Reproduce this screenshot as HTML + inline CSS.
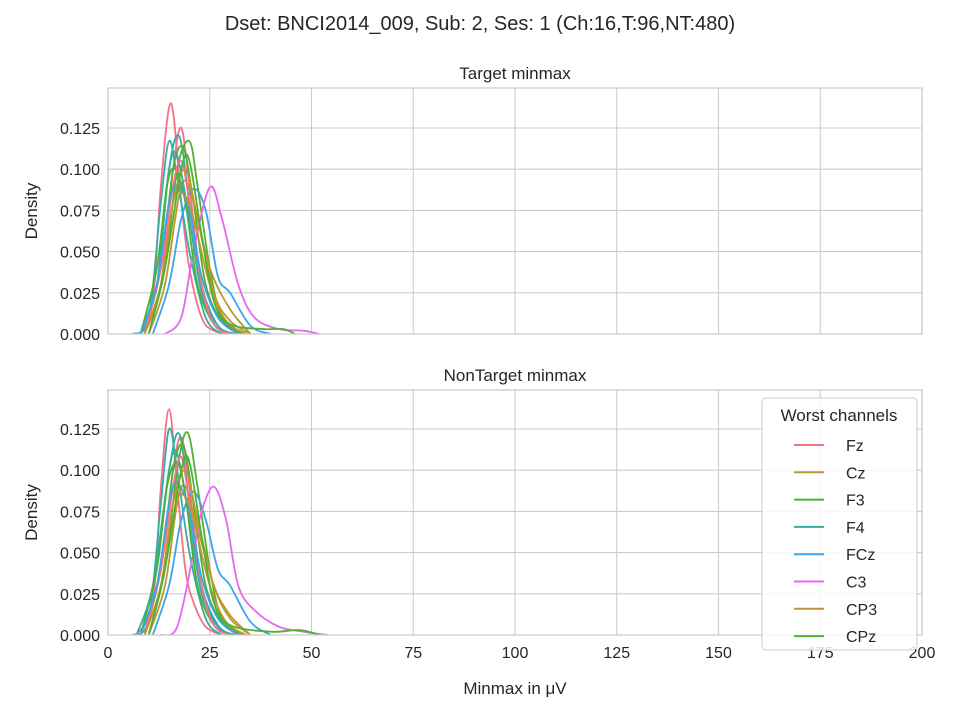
<!DOCTYPE html>
<html><head><meta charset="utf-8"><style>
body{margin:0;background:#fff;font-family:"Liberation Sans","DejaVu Sans",sans-serif;}
svg text{font-family:"Liberation Sans","DejaVu Sans",sans-serif;fill:#262626;}
</style></head><body>
<svg id="chart" width="960" height="720" viewBox="0 0 960 720"></svg>
<script>
const xTicks=[0,25,50,75,100,125,150,175,200];
const yTicks=[0,0.025,0.05,0.075,0.1,0.125];
const yTickLabels=["0.000","0.025","0.050","0.075","0.100","0.125"];
const channels=["Fz","Cz","F3","F4","FCz","C3","CP3","CPz"];
const palette=["#f77189","#bb9832","#50b131","#36ada4","#3ba3ec","#e866f4","#bb9832","#50b131"];
const targetColors=[0,0,3,3,2,2,1,4,5,3,1,2,0,4,1,2];
const targetCurves=[
[[8,0],[11,0.02],[13,0.09],[15.5,0.14],[18,0.08],[20,0.04],[23,0.01],[26,0.002],[30,0]],
[[9,0],[13,0.03],[16,0.1],[18,0.125],[20,0.09],[23,0.03],[27,0.005],[32,0]],
[[6,0],[10,0.01],[13,0.08],[15,0.117],[17,0.095],[20,0.05],[24,0.01],[28,0]],
[[8,0],[12,0.03],[15,0.1],[17.5,0.12],[20,0.08],[23,0.03],[27,0.005],[31,0]],
[[10,0],[14,0.04],[17,0.1],[20,0.117],[22,0.09],[25,0.04],[28,0.01],[33,0]],
[[9,0],[13,0.04],[16,0.1],[18.5,0.113],[21,0.08],[24,0.03],[28,0.008],[33,0]],
[[10,0],[14,0.03],[18,0.09],[21,0.08],[25,0.04],[30,0.015],[35,0]],
[[11,0],[15,0.03],[18,0.07],[21,0.088],[24,0.075],[27,0.035],[30,0.025],[35,0.005],[40,0]],
[[14,0],[18,0.01],[21,0.05],[25,0.089],[28,0.07],[32,0.03],[36,0.01],[42,0.003],[48,0.002],[52,0]],
[[8,0],[12,0.04],[15,0.1],[17,0.108],[20,0.07],[23,0.025],[27,0.005],[31,0]],
[[9,0],[13,0.03],[16,0.08],[19,0.1],[22,0.07],[26,0.025],[30,0.008],[35,0]],
[[8,0],[12,0.04],[14.5,0.09],[16.5,0.1],[19,0.08],[22,0.03],[26,0.006],[30,0]],
[[9,0],[13,0.04],[16,0.09],[18,0.105],[20,0.08],[23,0.03],[26,0.006],[30,0]],
[[8,0],[12,0.03],[15,0.08],[17,0.09],[20,0.075],[23,0.035],[27,0.01],[32,0]],
[[9,0],[13,0.03],[16,0.08],[18.5,0.085],[21,0.07],[25,0.03],[29,0.008],[34,0]],
[[10,0],[14,0.04],[18,0.1],[20,0.105],[23,0.06],[26,0.02],[30,0.006],[38,0.003],[43,0.003],[46,0]]];
const nonTargetColors=[0,0,3,3,2,2,1,4,5,3,1,2,0,4,1,2];
const nonTargetCurves=[
[[7,0],[11,0.02],[13,0.09],[15,0.137],[17,0.09],[19,0.04],[21,0.02],[24,0.005],[28,0]],
[[9,0],[13,0.04],[16,0.1],[18,0.12],[20,0.09],[23,0.03],[27,0.005],[32,0]],
[[6,0],[10,0.01],[13,0.08],[15,0.125],[17,0.1],[20,0.05],[24,0.01],[28,0]],
[[7,0],[11,0.03],[15,0.1],[17.5,0.122],[20,0.08],[23,0.03],[27,0.006],[31,0]],
[[10,0],[14,0.04],[17,0.1],[19.5,0.123],[22,0.09],[25,0.04],[28,0.01],[33,0]],
[[9,0],[13,0.04],[16,0.1],[18.5,0.115],[21,0.08],[24,0.03],[28,0.008],[33,0]],
[[10,0],[14,0.03],[17,0.08],[19,0.09],[22,0.065],[26,0.03],[30,0.012],[35,0]],
[[11,0],[15,0.03],[18,0.07],[21,0.087],[24,0.07],[27,0.04],[30,0.03],[35,0.008],[40,0]],
[[13,0],[17,0.005],[21,0.05],[23,0.075],[26,0.09],[29,0.07],[32,0.03],[36,0.015],[42,0.005],[48,0.002],[54,0]],
[[8,0],[12,0.04],[15,0.1],[17,0.11],[20,0.07],[23,0.025],[27,0.005],[31,0]],
[[9,0],[13,0.03],[16,0.08],[19,0.1],[22,0.07],[26,0.03],[30,0.01],[35,0]],
[[8,0],[12,0.04],[14.5,0.09],[17,0.105],[19,0.085],[22,0.03],[26,0.006],[30,0]],
[[9,0],[13,0.04],[16,0.09],[18,0.108],[20,0.08],[23,0.03],[26,0.006],[30,0]],
[[8,0],[12,0.03],[15,0.08],[17,0.092],[20,0.075],[23,0.035],[27,0.01],[32,0]],
[[9,0],[13,0.03],[16,0.08],[18.5,0.085],[21,0.07],[25,0.03],[29,0.008],[34,0]],
[[10,0],[14,0.04],[18,0.1],[20,0.105],[23,0.06],[26,0.02],[30,0.006],[40,0.002],[47,0.003],[52,0]]];

const NS="http://www.w3.org/2000/svg";
const svg=document.getElementById('chart');
function mk(tag,attrs,parent){const e=document.createElementNS(NS,tag);for(const k in attrs)e.setAttribute(k,attrs[k]);(parent||svg).appendChild(e);return e;}
const X0=108,X1=922;
function sx(v){return X0+(v-0)/(200-0)*(X1-X0);}
function smooth(pts){let d="M"+pts[0][0]+","+pts[0][1];for(let i=0;i<pts.length-1;i++){const p0=pts[i-1]||pts[i],p1=pts[i],p2=pts[i+1],p3=pts[i+2]||p2;
const c1=[p1[0]+(p2[0]-p0[0])/6,p1[1]+(p2[1]-p0[1])/6],c2=[p2[0]-(p3[0]-p1[0])/6,p2[1]-(p3[1]-p1[1])/6];
d+=" C"+c1[0]+","+c1[1]+" "+c2[0]+","+c2[1]+" "+p2[0]+","+p2[1];}return d;}

function panel(top,bottom,title,curves,cols,name,showX){
  const sy=v=>bottom-v/0.125*(bottom-(bottom-206));
  const g=mk('g',{});
  
  
  xTicks.forEach(t=>{const l=mk('line',{x1:sx(t),x2:sx(t),y1:top,y2:bottom,stroke:'#cccccc','stroke-width':1.1},g);
    if(showX){const tx=mk('text',{x:sx(t),y:bottom+23,'text-anchor':'middle','font-size':16},g);tx.textContent=t;}});
  yTicks.forEach((t,i)=>{const l=mk('line',{x1:X0,x2:X1,y1:sy(t),y2:sy(t),stroke:'#cccccc','stroke-width':1.1},g);
    const tx=mk('text',{x:X0-8,y:sy(t)+6,'text-anchor':'end','font-size':16},g);tx.textContent=yTickLabels[i];});
  const cid='clip'+name;const cp=mk('clipPath',{id:cid},g);mk('rect',{x:X0,y:top,width:X1-X0,height:bottom-top},cp);
  const cg=mk('g',{'clip-path':'url(#'+cid+')'},g);
  curves.forEach((c,i)=>{const p=mk('path',{d:smooth(c.map(q=>[sx(q[0]),sy(q[1])])),fill:'none',stroke:palette[cols[i]],'stroke-width':1.8},cg);
    });
  const fr=mk('rect',{x:X0,y:top,width:X1-X0,height:bottom-top,fill:'none',stroke:'#cccccc','stroke-width':1.3},g);
  
  const tt=mk('text',{x:(X0+X1)/2,y:top-9,'text-anchor':'middle','font-size':17},g);tt.textContent=title;
  
  const yl=mk('text',{x:0,y:0,'text-anchor':'middle','font-size':17,transform:'translate(37,'+((top+bottom)/2)+') rotate(-90)'},g);yl.textContent='Density';
  
}
const st=mk('text',{x:480,y:30,'text-anchor':'middle','font-size':20});st.textContent='Dset: BNCI2014_009, Sub: 2, Ses: 1 (Ch:16,T:96,NT:480)';

panel(88,334,'Target minmax',targetCurves,targetColors,'target-panel',false);
panel(390,635,'NonTarget minmax',nonTargetCurves,nonTargetColors,'nontarget-panel',true);
const xl=mk('text',{x:515,y:694,'text-anchor':'middle','font-size':17});xl.textContent='Minmax in μV';

const lg=mk('g',{});


mk('rect',{x:762,y:398,width:155,height:252,rx:4,fill:'#fff','fill-opacity':0.85,stroke:'#cccccc'},lg);
const lt=mk('text',{x:839,y:421,'text-anchor':'middle','font-size':17},lg);lt.textContent='Worst channels';
channels.forEach((c,i)=>{const y=445+i*27.3;
  const e=mk('g',{},lg);
  
  
  mk('line',{x1:794,x2:824,y1:y,y2:y,stroke:palette[i],'stroke-width':2},e);
  const t=mk('text',{x:846,y:y+6,'font-size':16},e);t.textContent=c;});
</script>
</body></html>
